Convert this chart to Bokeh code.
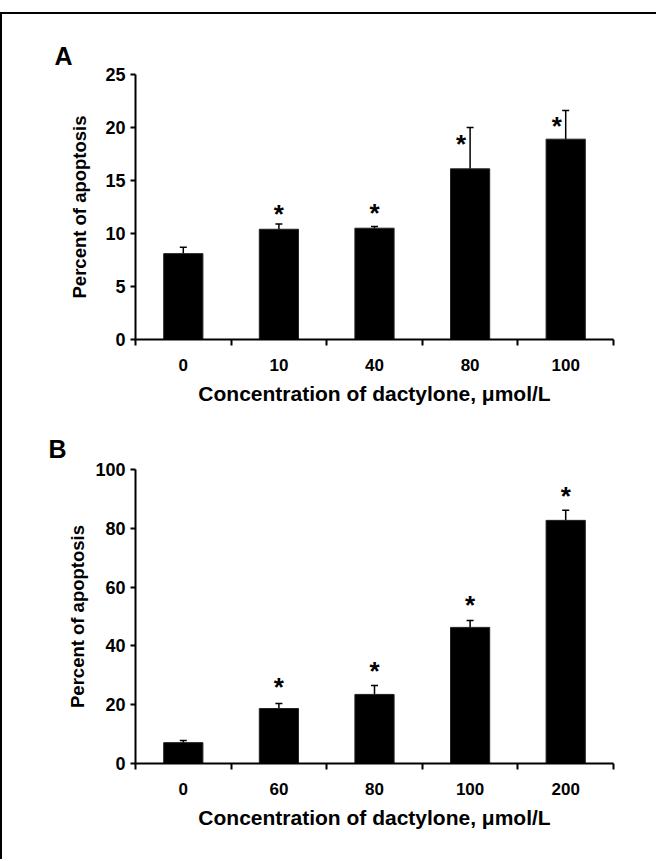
from bokeh.plotting import figure
from bokeh.layouts import column
from bokeh.models import Range1d, FixedTicker, Whisker, TeeHead, ColumnDataSource
from bokeh.core.properties import value
from bokeh.embed import file_html
from bokeh.resources import INLINE

# ---------------- data ----------------
conc_A = ["0", "10", "40", "80", "100"]
pct_A = [8.1, 10.4, 10.5, 16.1, 18.9]
err_A = [0.6, 0.5, 0.15, 3.9, 2.7]
sig_A = [False, True, True, True, True]

conc_B = ["0", "60", "80", "100", "200"]
pct_B = [7.1, 18.7, 23.5, 46.3, 82.7]
err_B = [0.7, 1.7, 3.0, 2.3, 3.4]
sig_B = [False, True, True, True, True]

yticks_A = [0, 5, 10, 15, 20, 25]
yticks_B = [0, 20, 40, 60, 80, 100]

xlabel = "Concentration of dactylone, \u03bcmol/L"
ylabel = "Percent of apoptosis"

FONT = "Liberation Sans"
W = 654


def panel(letter, cats, vals, errs, sig, yticks, height, bl, bt, bb,
          star_dx, star_dy, ylab_standoff, title_standoff):
    n = len(cats)
    xs = [i + 0.5 for i in range(n)]
    p = figure(width=W, height=height, output_backend="svg",
               toolbar_location=None, x_range=Range1d(0, n),
               y_range=Range1d(yticks[0], yticks[-1]),
               min_border_left=bl, min_border_right=W - bl - (620 - 9 - bl),
               min_border_top=bt, min_border_bottom=bb)
    p.outline_line_color = None
    p.grid.visible = False
    p.background_fill_color = "white"
    p.border_fill_color = "white"

    p.title.text = letter
    p.title.align = "left"
    p.title.offset = -(bl + 9 - 55)
    p.title.text_font = FONT
    p.title.text_font_style = "bold"
    p.title.text_font_size = "25px"
    p.title.text_color = "black"
    p.title.standoff = title_standoff

    src = ColumnDataSource(dict(x=xs, top=vals,
                                lo=vals,
                                hi=[v + e for v, e in zip(vals, errs)]))
    p.vbar(x="x", top="top", bottom=0, width=0.41, source=src,
           fill_color="black", line_color="#222222", line_width=1)
    w = Whisker(base="x", lower="lo", upper="hi", source=src,
                dimension="height", line_color="black", line_width=1.5,
                lower_head=None,
                upper_head=TeeHead(size=7, line_color="black", line_width=1.5))
    p.add_layout(w)

    sx, sy, dx, dy = [], [], [], []
    for i in range(n):
        if sig[i]:
            sx.append(xs[i])
            sy.append(vals[i] + errs[i])
            dx.append(star_dx[i])
            dy.append(star_dy[i])
    ssrc = ColumnDataSource(dict(x=sx, y=sy, dx=dx, dy=dy))
    p.text(x="x", y="y", text=value("*"), x_offset="dx", y_offset="dy",
           source=ssrc, text_font=value(FONT), text_font_style="bold",
           text_font_size="26px", text_align="center",
           text_baseline="middle", text_color="black")

    # x axis
    xa = p.xaxis[0]
    xa.ticker = FixedTicker(ticks=xs, minor_ticks=list(range(n + 1)))
    xa.major_label_overrides = {x: c for x, c in zip(xs, cats)}
    xa.major_tick_out = 0
    xa.major_tick_in = 0
    xa.minor_tick_out = 6
    xa.minor_tick_in = 0
    xa.minor_tick_line_width = 2
    xa.minor_tick_line_color = "black"
    xa.axis_line_width = 2
    xa.axis_line_color = "black"
    xa.major_label_standoff = 13
    xa.major_label_text_font = FONT
    xa.major_label_text_font_style = "bold"
    xa.major_label_text_font_size = "17px"
    xa.major_label_text_color = "black"
    xa.axis_label = xlabel
    xa.axis_label_text_font = FONT
    xa.axis_label_text_font_style = "bold"
    xa.axis_label_text_font_size = "21px"
    xa.axis_label_text_color = "black"
    xa.axis_label_standoff = 8

    ya = p.yaxis[0]
    ya.ticker = FixedTicker(ticks=yticks, minor_ticks=[])
    ya.major_tick_out = 5
    ya.major_tick_in = 0
    ya.major_tick_line_width = 2
    ya.major_tick_line_color = "black"
    ya.axis_line_width = 2
    ya.axis_line_color = "black"
    ya.major_label_standoff = 5
    ya.major_label_text_font = FONT
    ya.major_label_text_font_style = "bold"
    ya.major_label_text_font_size = "18px"
    ya.major_label_text_color = "black"
    ya.axis_label = ylabel
    ya.axis_label_text_font = FONT
    ya.axis_label_text_font_style = "bold"
    ya.axis_label_text_font_size = "18.5px"
    ya.axis_label_text_color = "black"
    ya.axis_label_standoff = ylab_standoff
    return p


pA = panel("A", conc_A, pct_A, err_A, sig_A, yticks_A, 406, 127, 60, 81,
           [0, 0, 0, -9, -9], [0, -10, -14, 16, 15], 12, 10)
pB = panel("B", conc_B, pct_B, err_B, sig_B, yticks_B, 439, 133, 49, 96,
           [0, 0, 0, 0, 0], [0, -17, -15, -16, -14], 4, 13)

layout = column(pA, pB, spacing=0, margin=(12, 0, 0, 0),
                styles={"border-left": "2px solid black",
                        "border-top": "2px solid black"})

open("out.html", "w").write(file_html(layout, INLINE))
